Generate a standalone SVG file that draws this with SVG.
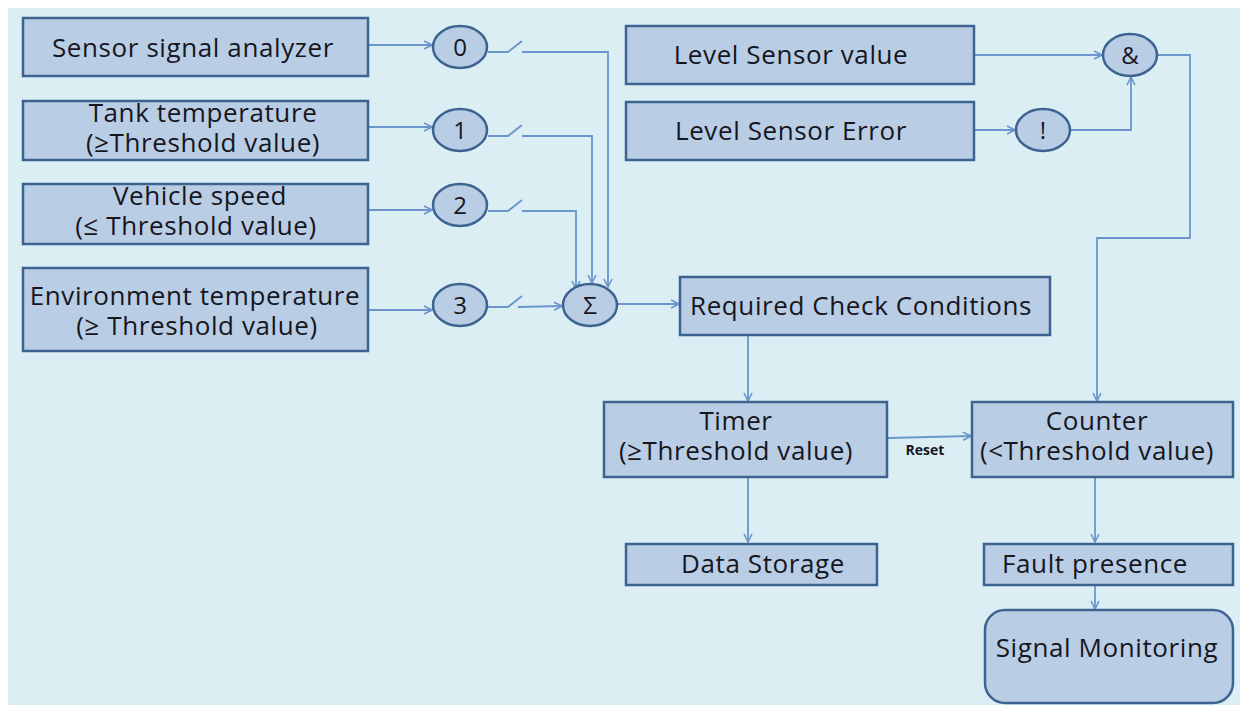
<svg xmlns="http://www.w3.org/2000/svg" width="1247" height="711" viewBox="0 0 1247 711">
  <style>
    .box { fill: #b9cde5; stroke: #3d6390; stroke-width: 2.5; }
    .op { fill: #b9cde5; stroke: #3d6390; stroke-width: 2.5; }
    .lbl { font-family: "Open Sans", "Liberation Sans", sans-serif; font-size: 26px; letter-spacing: 0.6px; fill: #16161e; text-anchor: middle; }
    .sym { font-family: "Open Sans", "Liberation Sans", sans-serif; font-size: 24px; fill: #16161e; text-anchor: middle; }
    .small { font-family: "Open Sans", "Liberation Sans", sans-serif; font-size: 14px; font-weight: bold; fill: #16161e; text-anchor: middle; }
    .wire { fill: none; stroke: #6b95cc; stroke-width: 1.8; }
    .arrow { fill: none; stroke: #6b95cc; stroke-width: 1.8; marker-end: url(#chev); }
  </style>
  <defs>
    <marker id="chev" viewBox="0 0 10 10" refX="9" refY="5" markerWidth="10" markerHeight="10" markerUnits="userSpaceOnUse" orient="auto">
      <path d="M1,1 L9,5 L1,9" fill="none" stroke="#6b95cc" stroke-width="1.6"/>
    </marker>
  </defs>

  <!-- backdrop -->
  <rect x="0" y="0" width="1247" height="711" fill="#ffffff"/>
  <rect x="8" y="8" width="1232" height="697" fill="#dbeef4"/>

  <!-- connectors -->
  <g id="connectors">
    <!-- inputs to selector circles -->
    <path class="arrow" d="M368,45 L432,45"/>
    <path class="arrow" d="M368,127 L432,127"/>
    <path class="arrow" d="M368,210 L432,210"/>
    <path class="arrow" d="M368,310 L432,310"/>
    <!-- switches -->
    <path class="wire" d="M488,52 L508,52 L522,41"/>
    <path class="wire" d="M488,136 L508,136 L522,125"/>
    <path class="wire" d="M488,211 L508,211 L522,200"/>
    <path class="wire" d="M488,307 L508,307 L522,296"/>
    <!-- switch outputs to summation -->
    <path class="arrow" d="M522,52 L608,52 L608,287"/>
    <path class="arrow" d="M522,136 L592,136 L592,283"/>
    <path class="arrow" d="M522,211 L576,211 L576,289"/>
    <path class="arrow" d="M518,307 L562,306"/>
    <!-- summation to check conditions -->
    <path class="arrow" d="M618,304 L679,304"/>
    <!-- check conditions to timer -->
    <path class="arrow" d="M748,336 L748,401"/>
    <!-- timer to data storage -->
    <path class="arrow" d="M748,478 L748,542"/>
    <!-- timer reset to counter -->
    <path class="arrow" d="M888,438 L971,436"/>
    <!-- level sensor logic -->
    <path class="arrow" d="M975,55 L1102,55"/>
    <path class="arrow" d="M975,130 L1015,130"/>
    <path class="arrow" d="M1071,130 L1131,130 L1131,77"/>
    <path class="arrow" d="M1158,55 L1190,55 L1190,238 L1097,238 L1097,401"/>
    <!-- counter to fault presence to monitoring -->
    <path class="arrow" d="M1095,478 L1095,542"/>
    <path class="arrow" d="M1095,586 L1095,609"/>
  </g>

  <!-- input blocks -->
  <g id="sensor-signal-analyzer">
    <rect class="box" x="23" y="18" width="345" height="58"/>
    <text class="lbl" x="193" y="57">Sensor signal analyzer</text>
  </g>
  <g id="tank-temperature">
    <rect class="box" x="23" y="101" width="345" height="59"/>
    <text class="lbl" x="203" y="122">Tank temperature</text>
    <text class="lbl" x="203" y="152">(≥Threshold value)</text>
  </g>
  <g id="vehicle-speed">
    <rect class="box" x="23" y="184" width="345" height="60"/>
    <text class="lbl" x="200" y="205">Vehicle speed</text>
    <text class="lbl" x="196" y="235">(≤ Threshold value)</text>
  </g>
  <g id="environment-temperature">
    <rect class="box" x="23" y="268" width="345" height="83"/>
    <text class="lbl" x="195" y="305">Environment temperature</text>
    <text class="lbl" x="197" y="335">(≥ Threshold value)</text>
  </g>

  <!-- selector circles -->
  <g id="sel-0">
    <ellipse class="op" cx="460" cy="47" rx="27" ry="21"/>
    <text class="sym" x="460" y="56">0</text>
  </g>
  <g id="sel-1">
    <ellipse class="op" cx="460" cy="130" rx="27" ry="21"/>
    <text class="sym" x="460" y="139">1</text>
  </g>
  <g id="sel-2">
    <ellipse class="op" cx="460" cy="205" rx="27" ry="21"/>
    <text class="sym" x="460" y="214">2</text>
  </g>
  <g id="sel-3">
    <ellipse class="op" cx="460" cy="305" rx="27" ry="21"/>
    <text class="sym" x="460" y="314">3</text>
  </g>
  <g id="sum">
    <ellipse class="op" cx="590" cy="305" rx="27" ry="21"/>
    <text class="sym" x="590" y="314">Σ</text>
  </g>

  <!-- level sensor logic -->
  <g id="level-sensor-value">
    <rect class="box" x="626" y="26" width="348" height="58"/>
    <text class="lbl" x="791" y="64">Level Sensor value</text>
  </g>
  <g id="level-sensor-error">
    <rect class="box" x="626" y="102" width="348" height="58"/>
    <text class="lbl" x="791" y="140">Level Sensor Error</text>
  </g>
  <g id="and-gate">
    <ellipse class="op" cx="1130" cy="55" rx="27" ry="21"/>
    <text class="sym" x="1130" y="64">&amp;</text>
  </g>
  <g id="not-gate">
    <ellipse class="op" cx="1043" cy="130" rx="27" ry="21"/>
    <text class="sym" x="1043" y="139">!</text>
  </g>

  <!-- processing chain -->
  <g id="required-check-conditions">
    <rect class="box" x="680" y="277" width="370" height="58"/>
    <text class="lbl" x="861" y="315">Required Check Conditions</text>
  </g>
  <g id="timer">
    <rect class="box" x="604" y="402" width="283" height="75"/>
    <text class="lbl" x="736" y="430">Timer</text>
    <text class="lbl" x="736" y="460">(≥Threshold value)</text>
    <text class="small" x="925" y="455">Reset</text>
  </g>
  <g id="counter">
    <rect class="box" x="972" y="402" width="261" height="75"/>
    <text class="lbl" x="1097" y="430">Counter</text>
    <text class="lbl" x="1097" y="460">(&lt;Threshold value)</text>
  </g>
  <g id="data-storage">
    <rect class="box" x="626" y="544" width="251" height="41"/>
    <text class="lbl" x="763" y="573">Data Storage</text>
  </g>
  <g id="fault-presence">
    <rect class="box" x="984" y="544" width="249" height="41"/>
    <text class="lbl" x="1095" y="573">Fault presence</text>
  </g>
  <g id="signal-monitoring">
    <rect class="box" x="985" y="610" width="248" height="93" rx="20" ry="20"/>
    <text class="lbl" x="1107" y="657">Signal Monitoring</text>
  </g>
</svg>
